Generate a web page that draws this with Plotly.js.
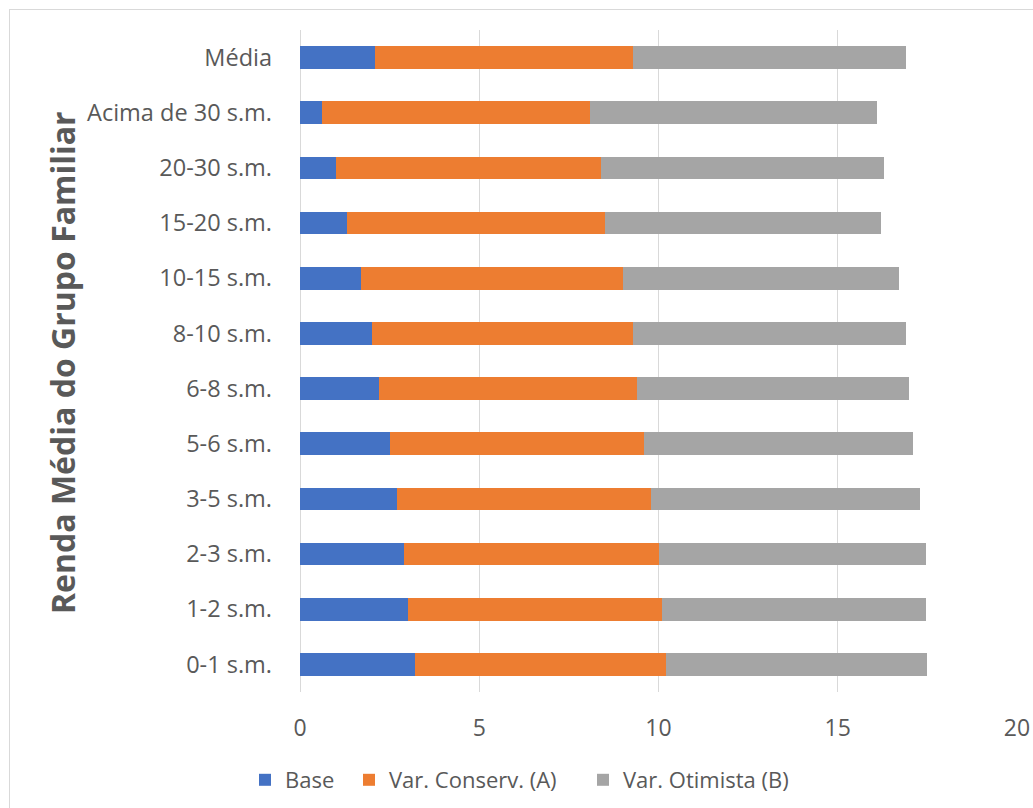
<!DOCTYPE html>
<html>
<head>
<meta charset="utf-8">
<script src="https://cdn.plot.ly/plotly-3.0.1.min.js"></script>
<style>
  html, body { margin: 0; padding: 0; background: #ffffff; overflow: hidden; }
  #frame { position: absolute; left: 9px; top: 9px; width: 1200px; height: 1000px;
           border-left: 1.5px solid #d9d9d9; border-top: 1.5px solid #d9d9d9; pointer-events: none; }
  #chart { position: absolute; left: 0; top: 0; width: 1033px; height: 808px; }
</style>
</head>
<body>
<div id="chart"></div>
<div id="frame"></div>
<script>
// Categories (top to bottom as shown)
const categories = ["Média", "Acima de 30 s.m.", "20-30 s.m.", "15-20 s.m.", "10-15 s.m.",
  "8-10 s.m.", "6-8 s.m.", "5-6 s.m.", "3-5 s.m.", "2-3 s.m.", "1-2 s.m.", "0-1 s.m."];

// Series values (stacked segments)
const base = [2.1, 0.6, 1.0, 1.3, 1.7, 2.0, 2.2, 2.5, 2.7, 2.9, 3.0, 3.2];
const varConserv = [7.2, 7.5, 7.4, 7.2, 7.3, 7.3, 7.2, 7.1, 7.1, 7.1, 7.1, 7.0];
const varOtimista = [7.6, 8.0, 7.9, 7.7, 7.7, 7.6, 7.6, 7.5, 7.5, 7.45, 7.35, 7.3];

const seriesNames = ["Base", "Var. Conserv. (A)", "Var. Otimista (B)"];
const xTicks = [0, 5, 10, 15, 20];

const FONT = "'Open Sans', 'DejaVu Sans', sans-serif";
const TXT = "#595959";

const colors = ["#4472c4", "#ed7d31", "#a5a5a5"];
const series = [base, varConserv, varOtimista];
const legendIds = ["legend", "legend2", "legend3"];

const data = series.map((vals, i) => ({
  type: "bar",
  orientation: "h",
  name: seriesNames[i],
  legend: legendIds[i],
  y: categories,
  x: vals,
  marker: { color: colors[i], line: { width: 0 } },
  hoverinfo: "x+y+name"
}));

const W = 1033, H = 808;
const mL = 300, mR = 16, mT = 30, mB = 116;
const plotW = W - mL - mR;

// legend left edges (px) so that the squares sit where the reference has them
const legendLeft = [245, 349, 583];
function legendSpec(px) {
  return {
    orientation: "h",
    xref: "container", yref: "container",
    x: px / W, xanchor: "left",
    y: 1 - 780 / H, yanchor: "middle",
    font: { family: FONT, size: 22, color: TXT },
    bgcolor: "rgba(0,0,0,0)",
    itemclick: false
  };
}

const layout = {
  width: W, height: H,
  margin: { l: mL, r: mR, t: mT, b: mB, pad: 0 },
  paper_bgcolor: "#ffffff",
  plot_bgcolor: "#ffffff",
  barmode: "stack",
  bargap: 0.59,
  font: { family: FONT, color: TXT, size: 20 },
  showlegend: true,
  legend: legendSpec(legendLeft[0]),
  legend2: legendSpec(legendLeft[1]),
  legend3: legendSpec(legendLeft[2]),
  xaxis: {
    range: [0, 20],
    tickvals: xTicks,
    ticktext: xTicks.map(String),
    showgrid: true,
    gridcolor: "#d9d9d9",
    gridwidth: 1,
    zeroline: true,
    zerolinecolor: "#d9d9d9",
    zerolinewidth: 1,
    showline: false,
    ticks: "",
    ticklabelstandoff: 20,
    tickfont: { family: FONT, size: 23, color: TXT },
    fixedrange: true
  },
  yaxis: {
    type: "category",
    autorange: "reversed",
    showgrid: false,
    zeroline: false,
    showline: false,
    ticks: "",
    ticklabelstandoff: 27,
    tickfont: { family: FONT, size: 23.5, color: TXT },
    fixedrange: true
  },
  annotations: [{
    text: "Renda Média do Grupo Familiar",
    xref: "paper", yref: "paper",
    x: (62 - mL) / plotW, y: (H - mB - 363) / (H - mT - mB),
    xanchor: "center", yanchor: "middle",
    textangle: -90,
    showarrow: false,
    font: { family: FONT, size: 32, color: TXT, weight: "bold" }
  }]
};

Plotly.newPlot("chart", data, layout, { displayModeBar: false });
</script>
</body>
</html>
